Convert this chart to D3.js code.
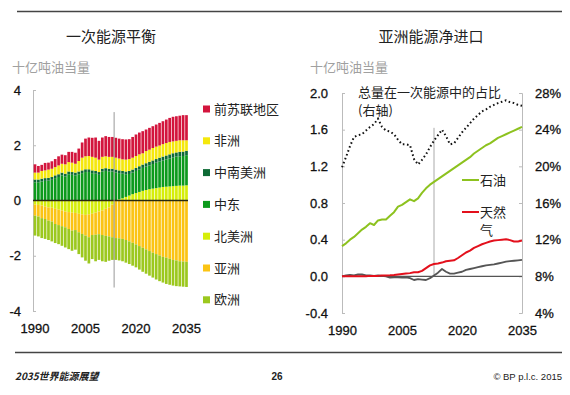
<!DOCTYPE html>
<html>
<head>
<meta charset="utf-8">
<script src="https://cdn.jsdelivr.net/npm/d3@7"></script>
<style>
body { margin: 0; background: #fff; }
svg { display: block; font-family: "Liberation Sans", Arial, sans-serif; }
.cjk { font-family: "Noto Sans CJK SC", sans-serif; }
</style>
</head>
<body>
<svg width="570" height="395"></svg>
<script>
// ---- data: primary energy balance (bn toe), 1990-2035 ----
var years = d3.range(1990, 2036);

var northAmerica = [-0.15,-0.16,-0.18,-0.22,-0.25,-0.26,-0.30,-0.33,-0.36,-0.40,-0.42,-0.44,-0.45,-0.48,-0.50,-0.52,-0.50,-0.48,-0.44,-0.40,-0.36,-0.30,-0.25,-0.15,
  0.00,0.04,0.08,0.13,0.18,0.23,0.27,0.31,0.35,0.38,0.41,0.43,0.45,0.47,0.49,0.50,0.51,0.52,0.53,0.54,0.54,0.55];
var middleEast = [0.66,0.66,0.69,0.71,0.72,0.75,0.81,0.85,0.91,0.87,0.95,0.93,0.91,0.95,0.99,1.03,1.03,0.99,0.97,0.93,1.05,1.07,1.05,1.05,
  1.02,0.95,0.89,0.82,0.78,0.78,0.80,0.81,0.83,0.85,0.86,0.89,0.92,0.94,0.96,0.99,1.01,1.04,1.06,1.06,1.07,1.09];
var csAmerica = [0.10,0.10,0.10,0.10,0.10,0.10,0.10,0.10,0.10,0.10,0.10,0.10,0.10,0.10,0.10,0.10,0.10,0.10,0.10,0.10,0.10,0.10,0.10,0.10,
  0.10,0.10,0.10,0.10,0.11,0.11,0.11,0.12,0.12,0.12,0.13,0.13,0.13,0.14,0.14,0.14,0.15,0.15,0.15,0.16,0.16,0.16];
var africa = [0.25,0.25,0.28,0.28,0.30,0.30,0.30,0.32,0.32,0.34,0.34,0.34,0.32,0.38,0.46,0.47,0.48,0.49,0.48,0.45,0.43,0.43,0.43,0.43,
  0.43,0.43,0.42,0.43,0.43,0.43,0.43,0.43,0.41,0.44,0.44,0.45,0.45,0.44,0.45,0.45,0.45,0.43,0.42,0.42,0.41,0.38];
var fsu = [0.30,0.24,0.22,0.27,0.25,0.27,0.29,0.33,0.33,0.33,0.37,0.39,0.40,0.45,0.55,0.64,0.67,0.69,0.73,0.68,0.70,0.73,0.72,0.72,
  0.72,0.72,0.73,0.73,0.72,0.75,0.78,0.79,0.80,0.78,0.79,0.79,0.80,0.82,0.83,0.85,0.87,0.89,0.89,0.89,0.91,0.91];
var asia = [-0.40,-0.42,-0.46,-0.45,-0.48,-0.50,-0.55,-0.56,-0.57,-0.57,-0.61,-0.65,-0.62,-0.67,-0.71,-0.75,-0.83,-0.77,-0.80,-0.82,-0.89,-0.98,-1.05,-1.18,
  -1.36,-1.37,-1.39,-1.43,-1.48,-1.53,-1.59,-1.65,-1.71,-1.77,-1.83,-1.89,-1.94,-1.99,-2.04,-2.07,-2.11,-2.15,-2.17,-2.20,-2.21,-2.22];
var europe = [-0.72,-0.72,-0.72,-0.72,-0.70,-0.72,-0.69,-0.69,-0.71,-0.73,-0.73,-0.73,-0.71,-0.79,-0.85,-0.91,-0.95,-0.87,-0.96,-0.93,-0.95,-0.94,-0.88,-0.82,
  -0.79,-0.80,-0.81,-0.82,-0.82,-0.83,-0.83,-0.85,-0.87,-0.88,-0.89,-0.90,-0.92,-0.93,-0.93,-0.95,-0.94,-0.93,-0.93,-0.91,-0.91,-0.91];

// ---- data: Asia net imports (bn toe) and share of primary energy (%) ----
var oil = [0.33,0.36,0.40,0.43,0.47,0.51,0.54,0.58,0.56,0.61,0.62,0.62,0.66,0.70,0.76,0.78,0.81,0.84,0.82,0.85,0.91,0.96,1.00,1.03,
  1.06,1.09,1.12,1.15,1.18,1.21,1.24,1.27,1.30,1.34,1.37,1.40,1.43,1.45,1.48,1.51,1.53,1.55,1.57,1.59,1.61,1.63];
var gas = [0.0,0.0,0.0,0.0,0.0,0.0,0.0,0.005,0.005,0.005,0.01,0.01,0.012,0.015,0.02,0.025,0.03,0.035,0.045,0.045,0.06,0.09,0.12,0.135,
  0.14,0.15,0.165,0.17,0.175,0.20,0.23,0.26,0.28,0.31,0.33,0.35,0.365,0.38,0.39,0.395,0.40,0.405,0.395,0.38,0.38,0.39];
var coal = [0.0,0.01,0.015,0.01,0.02,0.02,0.01,0.01,0.005,0.01,0.005,0.0,-0.015,-0.01,-0.01,-0.015,-0.01,-0.02,-0.04,-0.03,-0.035,-0.04,-0.02,0.01,
  0.04,0.08,0.05,0.03,0.03,0.04,0.05,0.07,0.08,0.09,0.10,0.11,0.12,0.125,0.13,0.14,0.15,0.16,0.165,0.17,0.175,0.18];
var share = [19.9,21.0,22.2,23.2,23.4,23.5,23.9,24.3,24.6,25.2,24.3,23.9,23.8,23.5,22.9,22.4,22.4,22.3,20.8,20.2,20.7,21.3,22.1,22.8,
  23.4,24.0,23.3,22.4,22.5,23.1,23.7,24.2,24.7,25.2,25.6,26.0,26.2,26.5,26.7,26.9,27.05,27.2,27.0,26.9,26.7,26.6];

var leftTicks = [-4, -2, 0, 2, 4];
var rightTicks = [-0.4, 0, 0.4, 0.8, 1.2, 1.6, 2.0];
var pctTicks = [4, 8, 12, 16, 20, 24, 28];
var yearTicks = [1990, 2005, 2020, 2035];

var regions = [
  {key: "northAmerica", name: "北美洲", color: "#d6ee0a", values: northAmerica},
  {key: "middleEast", name: "中东", color: "#0c9a1c", values: middleEast},
  {key: "csAmerica", name: "中南美洲", color: "#0d6a35", values: csAmerica},
  {key: "africa", name: "非洲", color: "#f5e80c", values: africa},
  {key: "fsu", name: "前苏联地区", color: "#d3153d", values: fsu},
  {key: "asia", name: "亚洲", color: "#fbc414", values: asia},
  {key: "europe", name: "欧洲", color: "#9cc81e", values: europe}
];
var legendOrder = ["fsu", "africa", "csAmerica", "middleEast", "northAmerica", "asia", "europe"];

var svg = d3.select("svg");

// rules and titles
svg.append("line").attr("x1", 17).attr("x2", 562).attr("y1", 11.5).attr("y2", 11.5)
  .attr("stroke", "#444").attr("stroke-width", 1.3);
svg.append("line").attr("x1", 15).attr("x2", 562).attr("y1", 352.5).attr("y2", 352.5)
  .attr("stroke", "#444").attr("stroke-width", 1.3);

svg.append("text").attr("class", "cjk").attr("x", 111).attr("y", 42).attr("text-anchor", "middle")
  .attr("font-size", 15).attr("fill", "#222").text("一次能源平衡");
svg.append("text").attr("class", "cjk").attr("x", 431).attr("y", 42).attr("text-anchor", "middle")
  .attr("font-size", 15).attr("fill", "#222").text("亚洲能源净进口");
svg.append("text").attr("class", "cjk").attr("x", 12).attr("y", 72)
  .attr("font-size", 13).attr("fill", "#a0a0a0").text("十亿吨油当量");
svg.append("text").attr("class", "cjk").attr("x", 310).attr("y", 72)
  .attr("font-size", 13).attr("fill", "#a0a0a0").text("十亿吨油当量");

// footer
svg.append("text").attr("class", "cjk").attr("x", 15).attr("y", 380)
  .attr("font-size", 10).attr("font-style", "italic").attr("font-weight", "bold").attr("fill", "#222").text("2035世界能源展望");
svg.append("text").attr("x", 277).attr("y", 380).attr("text-anchor", "middle")
  .attr("font-size", 10).attr("font-weight", "bold").attr("fill", "#222").text("26");
svg.append("text").attr("x", 562).attr("y", 380).attr("text-anchor", "end")
  .attr("font-size", 9.5).attr("fill", "#222").text("© BP p.l.c. 2015");

// heavier tick labels, close to the original's rendering
function styleTicks(g) {
  g.selectAll("path, line").attr("stroke", "#bbb");
  g.selectAll("text").attr("font-size", 13).attr("fill", "#111")
    .attr("stroke", "#111").attr("stroke-width", 0.3);
}

// ---- left chart ----
var xL = d3.scaleBand().domain(years).range([33.5, 188]).paddingInner(0.2).paddingOuter(0.05);
var yL = d3.scaleLinear().domain([-4, 4]).range([311, 90]);

var table = years.map(function(yr, i) {
  var row = {year: yr};
  regions.forEach(function(r) { row[r.key] = r.values[i]; });
  return row;
});
var series = d3.stack().keys(regions.map(function(r) { return r.key; }))
  .offset(d3.stackOffsetDiverging)(table);

var gL = svg.append("g");
gL.append("g")
  .attr("transform", "translate(33,0)")
  .call(d3.axisLeft(yL).tickValues(leftTicks).tickFormat(function(d) { return String(d); })
    .tickSizeInner(-3).tickSizeOuter(-3).tickPadding(12))
  .call(styleTicks);

gL.selectAll("g.layer")
  .data(series)
  .enter().append("g")
    .attr("class", "layer")
    .attr("fill", function(d) { return regions[d.index].color; })
  .selectAll("rect")
  .data(function(d) { return d; })
  .enter().append("rect")
    .attr("x", function(d) { return xL(d.data.year); })
    .attr("width", xL.bandwidth())
    .attr("y", function(d) { return yL(d[1]); })
    .attr("height", function(d) { return Math.abs(yL(d[0]) - yL(d[1])); });

gL.append("line")
  .attr("x1", 33).attr("x2", 188).attr("y1", yL(0)).attr("y2", yL(0))
  .attr("stroke", "#2a2a10").attr("stroke-width", 1.5);

var splitL = (xL(2013) + xL.bandwidth() + xL(2014)) / 2;
gL.append("line")
  .attr("x1", splitL).attr("x2", splitL).attr("y1", yL(3.2)).attr("y2", yL(-3.15))
  .attr("stroke", "#999").attr("stroke-width", 1);

gL.append("g")
  .attr("transform", "translate(0,315)")
  .call(d3.axisBottom(xL).tickValues(yearTicks).tickSize(0).tickPadding(9))
  .call(function(g) { g.select(".domain").remove(); })
  .call(styleTicks);

// legend
var legend = gL.selectAll("g.legend")
  .data(legendOrder.map(function(k) { return regions.find(function(r) { return r.key === k; }); }))
  .enter().append("g")
    .attr("class", "legend")
    .attr("transform", function(d, i) { return "translate(203," + (109 + i * 31.8) + ")"; });
legend.append("rect").attr("x", 0).attr("y", -3.5).attr("width", 7).attr("height", 7)
  .attr("fill", function(d) { return d.color; });
legend.append("text").attr("class", "cjk").attr("x", 11).attr("y", 0).attr("dy", "0.35em")
  .attr("font-size", 13).attr("fill", "#222").text(function(d) { return d.name; });

// ---- right chart ----
var xR = d3.scaleLinear().domain([1990, 2035]).range([342, 522]);
var yR = d3.scaleLinear().domain([-0.4, 2.0]).range([313, 93]);
var yP = d3.scaleLinear().domain([4, 28]).range([313, 93]);

var gR = svg.append("g");
gR.append("g")
  .attr("transform", "translate(342,0)")
  .call(d3.axisLeft(yR).tickValues(rightTicks).tickFormat(function(d) { return d.toFixed(1); })
    .tickSizeInner(-3).tickSizeOuter(-3).tickPadding(14))
  .call(styleTicks);
gR.append("g")
  .attr("transform", "translate(522,0)")
  .call(d3.axisRight(yP).tickValues(pctTicks).tickFormat(function(d) { return d + "%"; })
    .tickSizeInner(-3).tickSizeOuter(-3).tickPadding(13))
  .call(styleTicks);
gR.append("g")
  .attr("transform", "translate(0,317)")
  .call(d3.axisBottom(xR).tickValues(yearTicks).tickFormat(d3.format("d")).tickSize(0).tickPadding(9))
  .call(function(g) { g.select(".domain").remove(); })
  .call(styleTicks);

gR.append("line")
  .attr("x1", 342).attr("x2", 522).attr("y1", yR(0)).attr("y2", yR(0))
  .attr("stroke", "#555").attr("stroke-width", 1.2);
gR.append("line")
  .attr("x1", xR(2013)).attr("x2", xR(2013)).attr("y1", yR(1.62)).attr("y2", yR(0))
  .attr("stroke", "#aaa").attr("stroke-width", 1);

function lineOf(scale) {
  return d3.line()
    .x(function(d, i) { return xR(years[i]); })
    .y(function(d) { return scale(d); });
}

gR.append("path").datum(coal).attr("d", lineOf(yR))
  .attr("fill", "none").attr("stroke", "#555").attr("stroke-width", 1.8).attr("stroke-linejoin", "round");
gR.append("path").datum(gas).attr("d", lineOf(yR))
  .attr("fill", "none").attr("stroke", "#e3101c").attr("stroke-width", 2).attr("stroke-linejoin", "round");
gR.append("path").datum(oil).attr("d", lineOf(yR))
  .attr("fill", "none").attr("stroke", "#8dc21f").attr("stroke-width", 2).attr("stroke-linejoin", "round");
gR.append("path").datum(share).attr("d", lineOf(yP))
  .attr("fill", "none").attr("stroke", "#111").attr("stroke-width", 2)
  .attr("stroke-dasharray", "1.6,2.6");

// annotations
gR.append("text").attr("class", "cjk").attr("x", 358).attr("y", 97)
  .attr("font-size", 13).attr("fill", "#222").text("总量在一次能源中的占比");
gR.append("text").attr("class", "cjk").attr("x", 358).attr("y", 115)
  .attr("font-size", 13).attr("fill", "#222").text("(右轴)");

gR.append("line").attr("x1", 462).attr("x2", 479).attr("y1", 180).attr("y2", 180)
  .attr("stroke", "#8dc21f").attr("stroke-width", 2);
gR.append("text").attr("class", "cjk").attr("x", 480).attr("y", 180).attr("dy", "0.35em")
  .attr("font-size", 13).attr("fill", "#222").text("石油");
gR.append("line").attr("x1", 462).attr("x2", 479).attr("y1", 212).attr("y2", 212)
  .attr("stroke", "#e3101c").attr("stroke-width", 2);
gR.append("text").attr("class", "cjk").attr("x", 480).attr("y", 212).attr("dy", "0.35em")
  .attr("font-size", 13).attr("fill", "#222").text("天然");
gR.append("text").attr("class", "cjk").attr("x", 480).attr("y", 230).attr("dy", "0.35em")
  .attr("font-size", 13).attr("fill", "#222").text("气");
</script>
</body>
</html>
